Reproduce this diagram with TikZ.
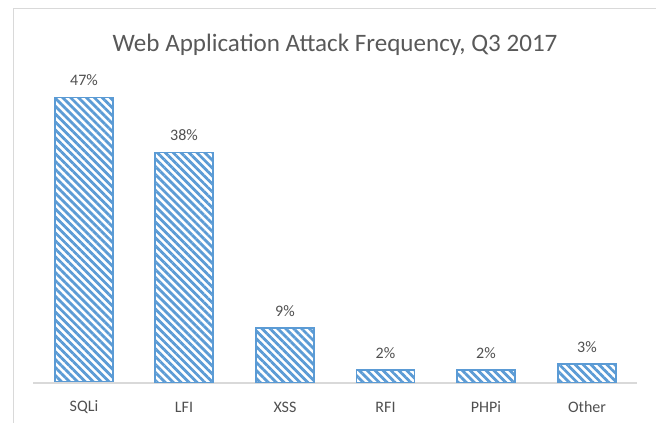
\documentclass[tikz,border=0pt]{standalone}
\usepackage{fontspec}
\setmainfont{Carlito}
\usepackage{tikz}
\usetikzlibrary{patterns.meta, positioning}
\definecolor{barblue}{RGB}{91,155,213}
\definecolor{framegray}{RGB}{217,217,217}
\definecolor{titlegray}{RGB}{89,89,89}
\definecolor{labelgray}{RGB}{80,80,80}
\tikzset{
  bar/.style={rectangle, draw=barblue, line width=1.1pt, anchor=south,
    minimum width=43.5pt, inner sep=0pt,
    pattern={Lines[angle=-45, distance=4.2pt, line width=2.1pt]},
    pattern color=barblue},
  pctlabel/.style={font=\fontsize{12}{14}\selectfont, text=labelgray, inner sep=1pt},
  catlabel/.style={font=\fontsize{12}{14}\selectfont, text=labelgray, inner sep=1pt},
  charttitle/.style={font=\fontsize{18.8}{22}\selectfont, text=titlegray},
  frame/.style={draw=framegray, line width=1.1pt},
  axis/.style={draw=framegray, line width=0.8pt}
}

\begin{document}
\begin{tikzpicture}[x=0.75pt, y=-0.75pt]
  \useasboundingbox (0,0) rectangle (656,423);

  % chart area border (runs off the page)
  \draw[frame] (13.5,440) -- (13.5,8.5) -- (670,8.5);

  % title
  \node[charttitle] (title) at (335,45) {Web Application Attack Frequency, Q3 2017};

  % horizontal axis
  \coordinate (axl) at (33,383);
  \coordinate (axr) at (637,383);
  \draw[axis] (axl) -- (axr);

  % bars: x position / value / category / name
  \foreach \x/\v/\cat/\nm in {84/47/SQLi/sqli, 184/38/LFI/lfi, 285/9/XSS/xss,
                              385.5/2/RFI/rfi, 486/2/PHPi/phpi, 587/3/Other/other}{
    \node[bar, minimum height=\v*6.04*0.75pt] (\nm) at (\x,383) {};
    \node[pctlabel, above=7pt of \nm.north] (\nm-pct) {\v\%};
    \node[catlabel] (\nm-cat) at (\x,407) {\cat};
  }
\end{tikzpicture}
\end{document}
